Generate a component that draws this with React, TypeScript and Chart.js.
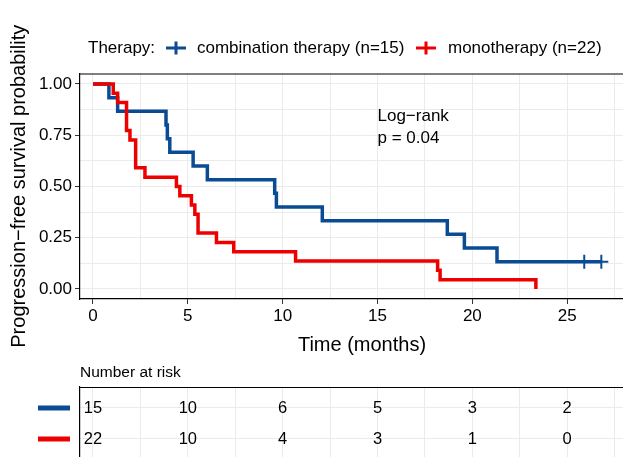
import React, { useEffect, useRef } from 'react';
import { Chart, registerables } from 'chart.js';

Chart.register(...registerables);

// ---- data ----
const comboTimes = [0, 0.84, 1.3, 3.85, 3.92, 4.05, 5.28, 6.03, 9.58, 9.67, 12.09, 18.68, 19.58, 21.3, 26.8];
const comboSurv = [1, 0.933, 0.867, 0.8, 0.733, 0.667, 0.6, 0.533, 0.467, 0.4, 0.333, 0.267, 0.2, 0.133, 0.133];
const comboCensorTimes = [25.9, 26.8];
const comboCensorSurv = [0.133, 0.133];

const monoTimes = [0, 1.07, 1.3, 1.77, 1.95, 2.25, 2.74, 4.4, 4.58, 5.19, 5.37, 5.54, 6.51, 7.42, 10.68, 18.17, 18.3, 23.35];
const monoSurv = [1, 0.955, 0.909, 0.773, 0.727, 0.591, 0.545, 0.5, 0.455, 0.409, 0.364, 0.273, 0.227, 0.182, 0.136, 0.091, 0.045, 0];

const riskTimes = [0, 5, 10, 15, 20, 25];
const riskCombo = [15, 10, 6, 5, 3, 2];
const riskMono = [22, 10, 4, 3, 1, 0];

const xGridTicks = [0, 2.5, 5, 7.5, 10, 12.5, 15, 17.5, 20, 22.5, 25, 27.5];
const yGridTicks = [0, 0.125, 0.25, 0.375, 0.5, 0.625, 0.75, 0.875, 1];

const seriesNames = ['combination therapy (n=15)', 'monotherapy (n=22)'];
const legendTitle = 'Therapy:';
const logRankLines = ['Log\u2212rank', 'p = 0.04'];
const logRankPos = { x: 15, y: [0.84, 0.733] };

const BLUE = '#0A4C93';
const RED = '#ED0000';
const GRID = '#EBEBEB';
const FONT = '"Liberation Sans", Arial, Helvetica, sans-serif';

const CANVAS_W = 645;
const X_MIN = -0.684;
const X_MAX = 29.05;

const toXY = (t: number[], s: number[]) => t.map((v, i) => ({ x: v, y: s[i] }));

const mainPlugin = {
  id: 'mainDecor',
  afterDraw(chart: any) {
    const { ctx, chartArea, scales } = chart;
    ctx.save();
    ctx.strokeStyle = '#000';
    ctx.lineWidth = 1.2;
    ctx.beginPath();
    ctx.moveTo(chartArea.left, chartArea.top + 0.5);
    ctx.lineTo(chartArea.right, chartArea.top + 0.5);
    ctx.stroke();

    // legend
    ctx.font = `17px ${FONT}`;
    ctx.fillStyle = '#000';
    ctx.textBaseline = 'middle';
    ctx.textAlign = 'left';
    const ly = 48;
    ctx.fillText(legendTitle, 88, ly);
    const keys = [
      { cx: 176, tx: 197, color: BLUE, label: seriesNames[0] },
      { cx: 426, tx: 448, color: RED, label: seriesNames[1] },
    ];
    keys.forEach((k) => {
      ctx.strokeStyle = k.color;
      ctx.lineWidth = 3;
      ctx.beginPath();
      ctx.moveTo(k.cx - 10, ly);
      ctx.lineTo(k.cx + 10, ly);
      ctx.moveTo(k.cx, ly - 6.5);
      ctx.lineTo(k.cx, ly + 6.5);
      ctx.stroke();
      ctx.fillStyle = '#000';
      ctx.fillText(k.label, k.tx, ly);
    });

    // log-rank annotation
    const x = scales.x.getPixelForValue(logRankPos.x);
    logRankLines.forEach((line, i) => {
      ctx.fillText(line, x, scales.y.getPixelForValue(logRankPos.y[i]));
    });
    ctx.restore();
  },
};

const riskPlugin = {
  id: 'riskDecor',
  afterDatasetsDraw(chart: any) {
    const { ctx, chartArea, scales } = chart;
    ctx.save();
    ctx.strokeStyle = '#000';
    ctx.lineWidth = 1.2;
    ctx.beginPath();
    ctx.moveTo(chartArea.left, chartArea.top + 0.5);
    ctx.lineTo(chartArea.right, chartArea.top + 0.5);
    ctx.stroke();

    ctx.font = `15.5px ${FONT}`;
    ctx.fillStyle = '#000';
    ctx.textBaseline = 'middle';
    ctx.textAlign = 'left';
    ctx.fillText('Number at risk', chartArea.left, 13);

    const rows = [
      { values: riskCombo, color: BLUE },
      { values: riskMono, color: RED },
    ];
    ctx.font = `16.5px ${FONT}`;
    ctx.textAlign = 'center';
    rows.forEach((r, di) => {
      const meta = chart.getDatasetMeta(di);
      meta.data.forEach((pt: any, j: number) => {
        ctx.fillStyle = '#000';
        ctx.fillText(String(r.values[j]), pt.x, pt.y);
      });
      const yy = scales.y.getPixelForValue(di === 0 ? 2 : 1);
      ctx.strokeStyle = r.color;
      ctx.lineWidth = 5;
      ctx.beginPath();
      ctx.moveTo(38, yy);
      ctx.lineTo(70, yy);
      ctx.stroke();
    });
    ctx.restore();
  },
};

export default function App() {
  const mainRef = useRef<HTMLCanvasElement>(null);
  const riskRef = useRef<HTMLCanvasElement>(null);

  useEffect(() => {
    if (!mainRef.current || !riskRef.current) return;
    Chart.defaults.font.family = FONT;

    const main = new Chart(mainRef.current, {
      type: 'line',
      data: {
        datasets: [
          {
            label: seriesNames[1],
            data: toXY(monoTimes, monoSurv),
            borderColor: RED,
            borderWidth: 3.5,
            stepped: 'before',
            pointRadius: 0,
            fill: false,
            order: 1,
          },
          {
            label: seriesNames[0],
            data: toXY(comboTimes, comboSurv),
            borderColor: BLUE,
            borderWidth: 3.5,
            stepped: 'before',
            pointRadius: 0,
            fill: false,
            order: 2,
          },
          {
            label: 'censor',
            data: toXY(comboCensorTimes, comboCensorSurv),
            showLine: false,
            pointStyle: 'cross',
            pointRadius: 7,
            pointBorderWidth: 2,
            pointBorderColor: BLUE,
            borderColor: BLUE,
            order: 0,
          },
        ],
      },
      options: {
        responsive: false,
        animation: false,
        parsing: false,
        layout: { autoPadding: false, padding: { top: 73.5, left: 0, right: 1, bottom: 0 } },
        plugins: { legend: { display: false }, tooltip: { enabled: false }, title: { display: false } },
        scales: {
          x: {
            type: 'linear',
            min: X_MIN,
            max: X_MAX,
            afterBuildTicks: (s: any) => {
              s.ticks = xGridTicks.map((v) => ({ value: v }));
            },
            afterFit: (s: any) => {
              s.height = 61;
              s.paddingRight = 0;
              s.paddingLeft = 0;
            },
            grid: {
              color: GRID,
              lineWidth: 1,
              drawTicks: true,
              tickLength: 5,
              tickColor: (c: any) => (c.tick && c.tick.value % 5 === 0 ? '#333' : 'rgba(0,0,0,0)'),
            },
            border: { display: true, color: '#000', width: 1.2 },
            ticks: {
              color: '#000',
              font: { size: 17, family: FONT },
              padding: 2,
              maxRotation: 0,
              autoSkip: false,
              callback: (v: any) => (Number(v) % 5 === 0 ? String(v) : ''),
            },
            title: {
              display: true,
              text: 'Time (months)',
              color: '#000',
              font: { size: 20, family: FONT },
              padding: { top: 0, bottom: 3 },
            },
          },
          y: {
            type: 'linear',
            min: -0.049,
            max: 1.051,
            afterBuildTicks: (s: any) => {
              s.ticks = yGridTicks.map((v) => ({ value: v }));
            },
            afterFit: (s: any) => {
              s.width = 80;
              s.paddingTop = 0;
              s.paddingBottom = 0;
            },
            grid: {
              color: GRID,
              lineWidth: 1,
              drawTicks: true,
              tickLength: 5,
              tickColor: (c: any) => (c.tick && Math.abs((c.tick.value / 0.25) - Math.round(c.tick.value / 0.25)) < 1e-6 ? '#333' : 'rgba(0,0,0,0)'),
            },
            border: { display: true, color: '#000', width: 1.2 },
            ticks: {
              color: '#000',
              font: { size: 17, family: FONT },
              padding: 3,
              autoSkip: false,
              callback: (v: any) => {
                const n = Number(v);
                return Math.abs(n / 0.25 - Math.round(n / 0.25)) < 1e-6 ? n.toFixed(2) : '';
              },
            },
            title: {
              display: true,
              text: 'Progression\u2212free survival probability',
              color: '#000',
              font: { size: 20, family: FONT },
              padding: { top: 7, bottom: 0 },
            },
          },
        },
      },
      plugins: [mainPlugin],
    } as any);

    const risk = new Chart(riskRef.current, {
      type: 'scatter',
      data: {
        datasets: [
          { label: 'combo', data: riskTimes.map((t) => ({ x: t, y: 2 })), pointRadius: 0 },
          { label: 'mono', data: riskTimes.map((t) => ({ x: t, y: 1 })), pointRadius: 0 },
        ],
      },
      options: {
        responsive: false,
        animation: false,
        parsing: false,
        layout: { autoPadding: false, padding: { top: 27, left: 0, right: 1, bottom: 0 } },
        plugins: { legend: { display: false }, tooltip: { enabled: false } },
        scales: {
          x: {
            type: 'linear',
            min: X_MIN,
            max: X_MAX,
            afterBuildTicks: (s: any) => {
              s.ticks = xGridTicks.map((v) => ({ value: v }));
            },
            afterFit: (s: any) => {
              s.height = 0;
              s.paddingRight = 0;
              s.paddingLeft = 0;
            },
            grid: { color: GRID, lineWidth: 1, drawTicks: false },
            border: { display: false },
            ticks: { display: false },
          },
          y: {
            type: 'linear',
            min: 0.419,
            max: 2.677,
            afterBuildTicks: (s: any) => {
              s.ticks = [1, 2].map((v) => ({ value: v }));
            },
            afterFit: (s: any) => {
              s.width = 80;
            },
            grid: { color: GRID, lineWidth: 1, drawTicks: false },
            border: { display: true, color: '#000', width: 1.2 },
            ticks: { display: false },
          },
        },
      },
      plugins: [riskPlugin],
    } as any);

    return () => {
      main.destroy();
      risk.destroy();
    };
  }, []);

  return (
    <div style={{ position: 'absolute', left: 0, top: 0, width: 623, height: 457, background: '#fff', overflow: 'hidden' }}>
      <canvas ref={mainRef} width={CANVAS_W} height={360} style={{ position: 'absolute', left: 0, top: 0, display: 'block' }} />
      <canvas ref={riskRef} width={CANVAS_W} height={97} style={{ position: 'absolute', left: 0, top: 360, display: 'block' }} />
    </div>
  );
}
